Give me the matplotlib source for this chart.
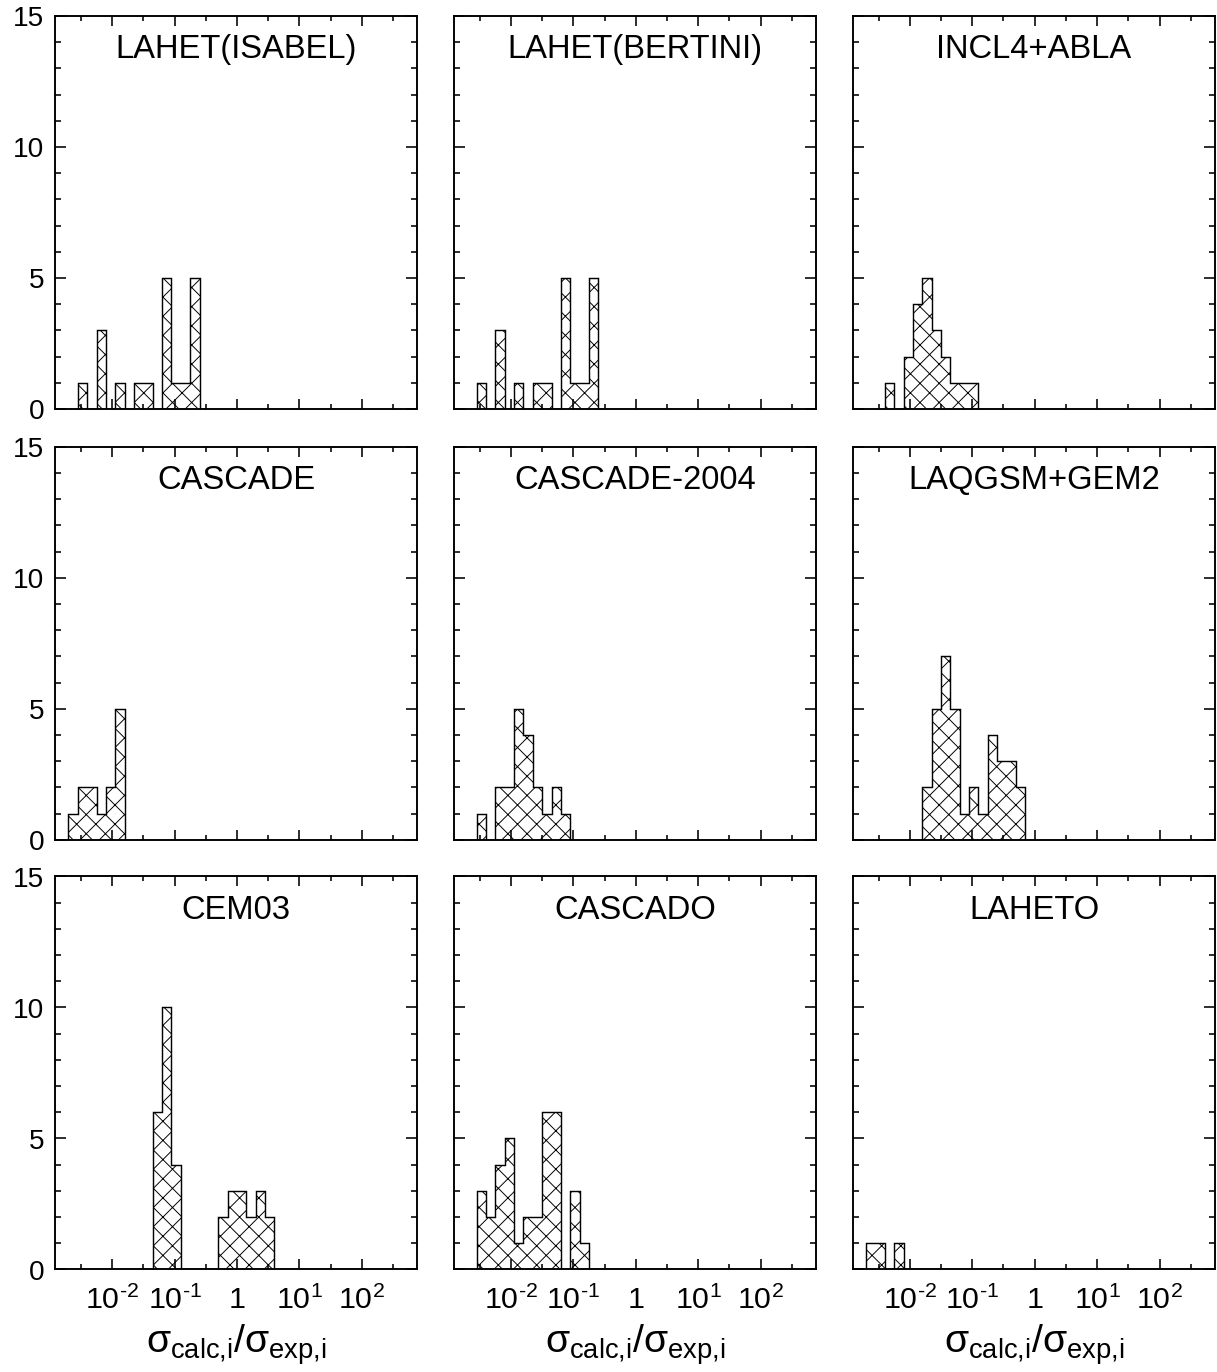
import numpy as np
import matplotlib
matplotlib.use('Agg')
import matplotlib.pyplot as plt
from matplotlib.ticker import FixedLocator, NullFormatter

## style

plt.rcParams['font.family'] = ['Liberation Sans', 'DejaVu Sans']
plt.rcParams['mathtext.fontset'] = 'custom'
plt.rcParams['mathtext.rm'] = 'Liberation Sans'
plt.rcParams['mathtext.it'] = 'Liberation Sans'
plt.rcParams['mathtext.bf'] = 'Liberation Sans:bold'
plt.rcParams['hatch.linewidth'] = 0.6

## data (counts per log10 bin of width 0.15, starting at first_bin)

titles = ['LAHET(ISABEL)', 'LAHET(BERTINI)', 'INCL4+ABLA',
          'CASCADE', 'CASCADE-2004', 'LAQGSM+GEM2',
          'CEM03', 'CASCADO', 'LAHETO']

first_bin = [-2.55, -2.55, -2.4,
             -2.7, -2.55, -1.8,
             -1.35, -2.55, -2.7]

counts = [
    [1, 0, 3, 0, 1, 0, 1, 1, 0, 5, 1, 1, 5],
    [1, 0, 3, 0, 1, 0, 1, 1, 0, 5, 1, 1, 5],
    [1, 0, 2, 4, 5, 3, 2, 1, 1, 1],
    [1, 2, 2, 1, 2, 5],
    [1, 0, 2, 2, 5, 4, 2, 1, 2, 1],
    [2, 5, 7, 5, 1, 2, 1, 4, 3, 3, 2],
    [6, 10, 4, 0, 0, 0, 0, 2, 3, 3, 2, 3, 2],
    [3, 2, 4, 5, 1, 2, 2, 6, 6, 0, 3, 1],
    [1, 1, 0, 1],
]

bin_width = 0.15

xtick_vals   = [1e-2, 1e-1, 1, 1e1, 1e2]
xtick_labels = [r'$10^{\text{-2}}$', r'$10^{\text{-1}}$', '1',
                r'$10^{\text{1}}$', r'$10^{\text{2}}$']
ytick_vals   = [0, 5, 10, 15]

## layout (figure fractions)

dpi = 115
fig = plt.figure(figsize=(1217.4 / dpi, 1372.4 / dpi), dpi=dpi)

lefts   = [55.3 / 1217, 454.0 / 1217, 852.7 / 1217]
bottoms = [1 - 409.3 / 1372, 1 - 840.0 / 1372, 1 - 1269.5 / 1372]
w = 362.0 / 1217
h = 393.0 / 1372

for i in range(9):
    row, col = divmod(i, 3)
    ax = fig.add_axes([lefts[col], bottoms[row], w, h])

    c = np.array(counts[i])
    edges = 10 ** (first_bin[i] + bin_width * np.arange(len(c) + 1))
    ax.stairs(c, edges, fill=True, facecolor='white', edgecolor='black',
              hatch='xx', linewidth=0.9, zorder=1)

    ax.set_xscale('log')
    ax.set_xlim(10 ** -2.91, 10 ** 2.89)
    ax.set_ylim(0, 15)

    ax.xaxis.set_major_locator(FixedLocator(xtick_vals))
    ax.xaxis.set_minor_locator(FixedLocator([10 ** (k + 0.5) for k in range(-3, 3)]))
    ax.xaxis.set_minor_formatter(NullFormatter())
    ax.yaxis.set_major_locator(FixedLocator(ytick_vals))
    ax.yaxis.set_minor_locator(FixedLocator(range(16)))

    ax.tick_params(which='both', direction='in', top=True, right=True,
                   width=1.0, colors='black')
    ax.tick_params(axis='x', which='major', length=6)
    ax.tick_params(axis='x', which='minor', length=3)
    ax.tick_params(axis='y', which='major', length=7)
    ax.tick_params(axis='y', which='minor', length=3.8)

    if row == 2:
        ax.set_xticklabels(xtick_labels, fontsize=19)
        ax.tick_params(axis='x', which='major', pad=10)
        ax.text(0.5, -0.21, r'$\sigma_{\text{calc,i}}/\sigma_{\text{exp,i}}$',
                transform=ax.transAxes, ha='center', va='baseline', fontsize=24.5)
    else:
        ax.set_xticklabels([])

    if col == 0:
        ax.set_yticklabels([str(v) for v in ytick_vals], fontsize=17.5)
        ax.tick_params(axis='y', which='major', pad=7)
    else:
        ax.set_yticklabels([])

    for s in ax.spines.values():
        s.set_linewidth(1.2)

    ax.text(0.5, 0.915, titles[i], transform=ax.transAxes,
            ha='center', va='center', fontsize=20.5)

fig.savefig('out.png', dpi=dpi, facecolor='white')
